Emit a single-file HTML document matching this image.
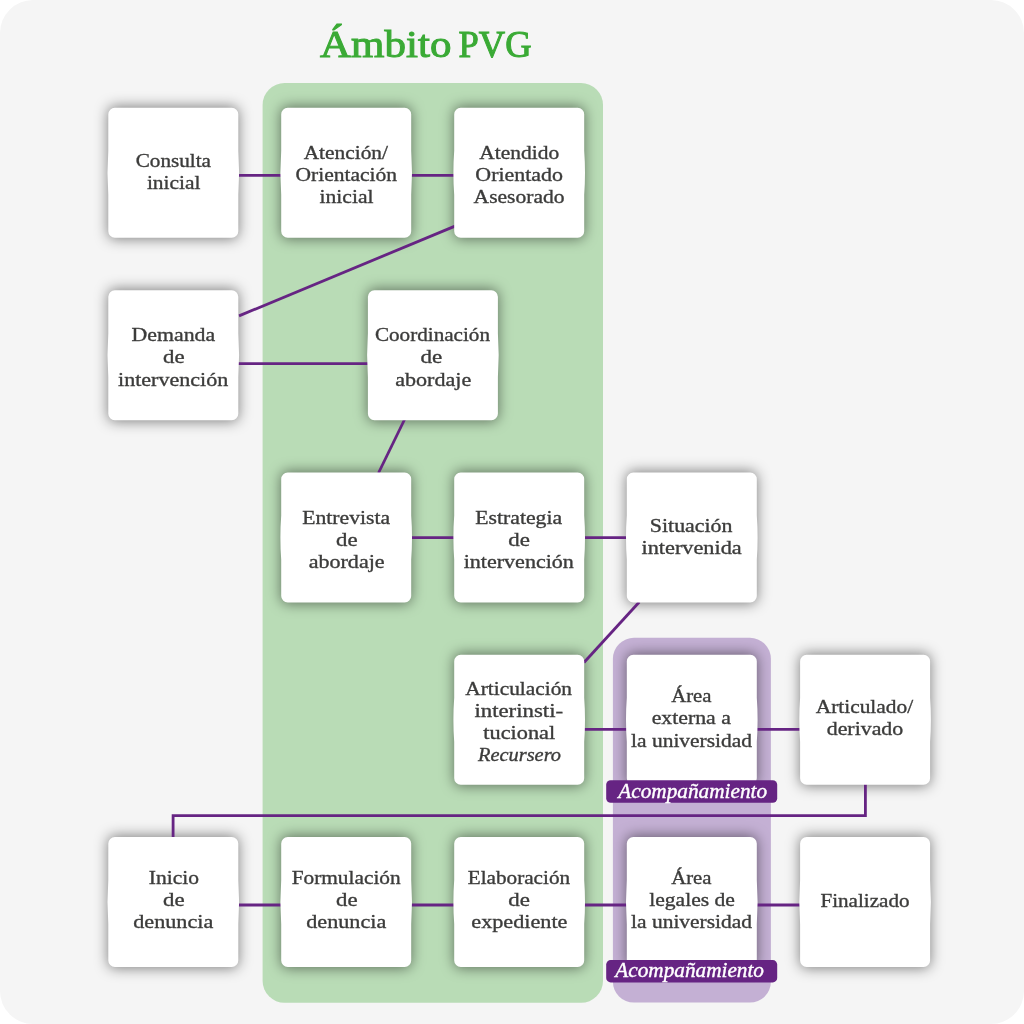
<!DOCTYPE html>
<html lang="es"><head><meta charset="utf-8"><title>Ámbito PVG</title>
<style>
html,body{margin:0;padding:0;background:#fff;}
body{width:1024px;height:1024px;overflow:hidden;font-family:"Liberation Serif",serif;}
svg{display:block;}
text{font-family:"Liberation Serif",serif;}
.t{font-size:19px;fill:#3c3c3b;stroke:#3c3c3b;stroke-width:.35px;}
.i{font-style:italic;}
.w{font-size:20px;fill:#fff;stroke:#fff;stroke-width:.4px;}
.ti{font-size:38.5px;fill:#3aaa35;stroke:#3aaa35;stroke-width:1px;}
.ln{stroke:#662483;stroke-width:2.8;fill:none;}
.bx{fill:#fff;}
.sh{fill:#000;fill-opacity:.5;filter:url(#blur);}
</style></head><body>
<svg width="1024" height="1024" viewBox="0 0 1024 1024">
<defs><filter id="blur" x="-25%" y="-25%" width="150%" height="150%"><feGaussianBlur stdDeviation="7"/></filter></defs>
<rect x="0" y="0" width="1024" height="1024" rx="33" ry="33" fill="#f5f5f5"/>
<rect x="262.6" y="83" width="340.4" height="919.8" rx="22" ry="22" fill="#b9dcb6"/>
<rect x="612.9" y="637.8" width="158" height="364.8" rx="21" ry="21" fill="#c4b0d4"/>
<g>
<path class="sh" d="M114.80,106.80 H231.80 Q238.30,106.80 238.30,113.30 Q238.30,172.75 238.30,232.20 Q238.30,238.70 231.80,238.70 H114.80 Q108.30,238.70 108.30,232.20 Q108.30,172.75 108.30,113.30 Q108.30,106.80 114.80,106.80Z"/>
<path class="sh" d="M287.70,106.80 H404.70 Q411.20,106.80 411.20,113.30 Q411.20,172.75 411.20,232.20 Q411.20,238.70 404.70,238.70 H287.70 Q281.20,238.70 281.20,232.20 Q281.20,172.75 281.20,113.30 Q281.20,106.80 287.70,106.80Z"/>
<path class="sh" d="M460.70,106.80 H577.70 Q584.20,106.80 584.20,113.30 Q584.20,172.75 584.20,232.20 Q584.20,238.70 577.70,238.70 H460.70 Q454.20,238.70 454.20,232.20 Q454.20,172.75 454.20,113.30 Q454.20,106.80 460.70,106.80Z"/>
<path class="sh" d="M114.80,289.30 H231.80 Q238.30,289.30 238.30,295.80 Q238.30,355.25 238.30,414.70 Q238.30,421.20 231.80,421.20 H114.80 Q108.30,421.20 108.30,414.70 Q108.30,355.25 108.30,295.80 Q108.30,289.30 114.80,289.30Z"/>
<path class="sh" d="M374.40,289.30 H491.40 Q497.90,289.30 497.90,295.80 Q497.90,355.25 497.90,414.70 Q497.90,421.20 491.40,421.20 H374.40 Q367.90,421.20 367.90,414.70 Q367.90,355.25 367.90,295.80 Q367.90,289.30 374.40,289.30Z"/>
<path class="sh" d="M287.70,471.60 H404.70 Q411.20,471.60 411.20,478.10 Q411.20,537.55 411.20,597.00 Q411.20,603.50 404.70,603.50 H287.70 Q281.20,603.50 281.20,597.00 Q281.20,537.55 281.20,478.10 Q281.20,471.60 287.70,471.60Z"/>
<path class="sh" d="M460.70,471.60 H577.70 Q584.20,471.60 584.20,478.10 Q584.20,537.55 584.20,597.00 Q584.20,603.50 577.70,603.50 H460.70 Q454.20,603.50 454.20,597.00 Q454.20,537.55 454.20,478.10 Q454.20,471.60 460.70,471.60Z"/>
<path class="sh" d="M633.30,471.60 H750.30 Q756.80,471.60 756.80,478.10 Q756.80,537.55 756.80,597.00 Q756.80,603.50 750.30,603.50 H633.30 Q626.80,603.50 626.80,597.00 Q626.80,537.55 626.80,478.10 Q626.80,471.60 633.30,471.60Z"/>
<path class="sh" d="M460.70,653.80 H577.70 Q584.20,653.80 584.20,660.30 Q584.20,719.75 584.20,779.20 Q584.20,785.70 577.70,785.70 H460.70 Q454.20,785.70 454.20,779.20 Q454.20,719.75 454.20,660.30 Q454.20,653.80 460.70,653.80Z"/>
<path class="sh" d="M633.30,653.80 H750.30 Q756.80,653.80 756.80,660.30 Q756.80,719.75 756.80,779.20 Q756.80,785.70 750.30,785.70 H633.30 Q626.80,785.70 626.80,779.20 Q626.80,719.75 626.80,660.30 Q626.80,653.80 633.30,653.80Z"/>
<path class="sh" d="M806.60,653.80 H923.60 Q930.10,653.80 930.10,660.30 Q930.10,719.75 930.10,779.20 Q930.10,785.70 923.60,785.70 H806.60 Q800.10,785.70 800.10,779.20 Q800.10,719.75 800.10,660.30 Q800.10,653.80 806.60,653.80Z"/>
<path class="sh" d="M114.80,836.10 H231.80 Q238.30,836.10 238.30,842.60 Q238.30,902.05 238.30,961.50 Q238.30,968.00 231.80,968.00 H114.80 Q108.30,968.00 108.30,961.50 Q108.30,902.05 108.30,842.60 Q108.30,836.10 114.80,836.10Z"/>
<path class="sh" d="M287.70,836.10 H404.70 Q411.20,836.10 411.20,842.60 Q411.20,902.05 411.20,961.50 Q411.20,968.00 404.70,968.00 H287.70 Q281.20,968.00 281.20,961.50 Q281.20,902.05 281.20,842.60 Q281.20,836.10 287.70,836.10Z"/>
<path class="sh" d="M460.70,836.10 H577.70 Q584.20,836.10 584.20,842.60 Q584.20,902.05 584.20,961.50 Q584.20,968.00 577.70,968.00 H460.70 Q454.20,968.00 454.20,961.50 Q454.20,902.05 454.20,842.60 Q454.20,836.10 460.70,836.10Z"/>
<path class="sh" d="M633.30,836.10 H750.30 Q756.80,836.10 756.80,842.60 Q756.80,902.05 756.80,961.50 Q756.80,968.00 750.30,968.00 H633.30 Q626.80,968.00 626.80,961.50 Q626.80,902.05 626.80,842.60 Q626.80,836.10 633.30,836.10Z"/>
<path class="sh" d="M806.60,836.10 H923.60 Q930.10,836.10 930.10,842.60 Q930.10,902.05 930.10,961.50 Q930.10,968.00 923.60,968.00 H806.60 Q800.10,968.00 800.10,961.50 Q800.10,902.05 800.10,842.60 Q800.10,836.10 806.60,836.10Z"/>
</g>
<path class="ln" d="M238,175.4 H282"/>
<path class="ln" d="M411,175.4 H455"/>
<path class="ln" d="M238,363.6 H369"/>
<path class="ln" d="M411,537.6 H455"/>
<path class="ln" d="M584,537.6 H628"/>
<path class="ln" d="M584,729.3 H628"/>
<path class="ln" d="M757,729.3 H801"/>
<path class="ln" d="M238,905.0 H282"/>
<path class="ln" d="M411,905.0 H455"/>
<path class="ln" d="M584,905.0 H628"/>
<path class="ln" d="M757,905.0 H801"/>
<path class="ln" d="M239,315.9 L455,226.1"/>
<path class="ln" d="M404.8,419 L378.5,473"/>
<path class="ln" d="M639.3,602 L584,662.5"/>
<path class="ln" d="M865.4,784 V815.7 H173.1 V838" stroke-linejoin="miter"/>
<path class="bx" d="M114.8,107.8 H231.8 A6.5,6.5 0 0 1 238.3,114.3 V150.8 Q239.9,172.8 238.3,194.8 V231.2 A6.5,6.5 0 0 1 231.8,237.7 H114.8 A6.5,6.5 0 0 1 108.3,231.2 V194.8 Q106.7,172.8 108.3,150.8 V114.3 A6.5,6.5 0 0 1 114.8,107.8Z"/>
<path class="bx" d="M287.7,107.8 H404.7 A6.5,6.5 0 0 1 411.2,114.3 V150.8 Q412.8,172.8 411.2,194.8 V231.2 A6.5,6.5 0 0 1 404.7,237.7 H287.7 A6.5,6.5 0 0 1 281.2,231.2 V194.8 Q279.6,172.8 281.2,150.8 V114.3 A6.5,6.5 0 0 1 287.7,107.8Z"/>
<path class="bx" d="M460.7,107.8 H577.7 A6.5,6.5 0 0 1 584.2,114.3 V150.8 Q585.8,172.8 584.2,194.8 V231.2 A6.5,6.5 0 0 1 577.7,237.7 H460.7 A6.5,6.5 0 0 1 454.2,231.2 V194.8 Q452.6,172.8 454.2,150.8 V114.3 A6.5,6.5 0 0 1 460.7,107.8Z"/>
<path class="bx" d="M114.8,290.3 H231.8 A6.5,6.5 0 0 1 238.3,296.8 V333.2 Q239.9,355.2 238.3,377.2 V413.7 A6.5,6.5 0 0 1 231.8,420.2 H114.8 A6.5,6.5 0 0 1 108.3,413.7 V377.2 Q106.7,355.2 108.3,333.2 V296.8 A6.5,6.5 0 0 1 114.8,290.3Z"/>
<path class="bx" d="M374.4,290.3 H491.4 A6.5,6.5 0 0 1 497.9,296.8 V333.2 Q499.5,355.2 497.9,377.2 V413.7 A6.5,6.5 0 0 1 491.4,420.2 H374.4 A6.5,6.5 0 0 1 367.9,413.7 V377.2 Q366.3,355.2 367.9,333.2 V296.8 A6.5,6.5 0 0 1 374.4,290.3Z"/>
<path class="bx" d="M287.7,472.6 H404.7 A6.5,6.5 0 0 1 411.2,479.1 V515.6 Q412.8,537.6 411.2,559.6 V596.0 A6.5,6.5 0 0 1 404.7,602.5 H287.7 A6.5,6.5 0 0 1 281.2,596.0 V559.6 Q279.6,537.6 281.2,515.6 V479.1 A6.5,6.5 0 0 1 287.7,472.6Z"/>
<path class="bx" d="M460.7,472.6 H577.7 A6.5,6.5 0 0 1 584.2,479.1 V515.6 Q585.8,537.6 584.2,559.6 V596.0 A6.5,6.5 0 0 1 577.7,602.5 H460.7 A6.5,6.5 0 0 1 454.2,596.0 V559.6 Q452.6,537.6 454.2,515.6 V479.1 A6.5,6.5 0 0 1 460.7,472.6Z"/>
<path class="bx" d="M633.3,472.6 H750.3 A6.5,6.5 0 0 1 756.8,479.1 V515.6 Q758.4,537.6 756.8,559.6 V596.0 A6.5,6.5 0 0 1 750.3,602.5 H633.3 A6.5,6.5 0 0 1 626.8,596.0 V559.6 Q625.2,537.6 626.8,515.6 V479.1 A6.5,6.5 0 0 1 633.3,472.6Z"/>
<path class="bx" d="M460.7,654.8 H577.7 A6.5,6.5 0 0 1 584.2,661.3 V697.8 Q585.8,719.8 584.2,741.8 V778.2 A6.5,6.5 0 0 1 577.7,784.7 H460.7 A6.5,6.5 0 0 1 454.2,778.2 V741.8 Q452.6,719.8 454.2,697.8 V661.3 A6.5,6.5 0 0 1 460.7,654.8Z"/>
<path class="bx" d="M633.3,654.8 H750.3 A6.5,6.5 0 0 1 756.8,661.3 V697.8 Q758.4,719.8 756.8,741.8 V778.2 A6.5,6.5 0 0 1 750.3,784.7 H633.3 A6.5,6.5 0 0 1 626.8,778.2 V741.8 Q625.2,719.8 626.8,697.8 V661.3 A6.5,6.5 0 0 1 633.3,654.8Z"/>
<path class="bx" d="M806.6,654.8 H923.6 A6.5,6.5 0 0 1 930.1,661.3 V697.8 Q931.7,719.8 930.1,741.8 V778.2 A6.5,6.5 0 0 1 923.6,784.7 H806.6 A6.5,6.5 0 0 1 800.1,778.2 V741.8 Q798.5,719.8 800.1,697.8 V661.3 A6.5,6.5 0 0 1 806.6,654.8Z"/>
<path class="bx" d="M114.8,837.1 H231.8 A6.5,6.5 0 0 1 238.3,843.6 V880.1 Q239.9,902.1 238.3,924.1 V960.5 A6.5,6.5 0 0 1 231.8,967.0 H114.8 A6.5,6.5 0 0 1 108.3,960.5 V924.1 Q106.7,902.1 108.3,880.1 V843.6 A6.5,6.5 0 0 1 114.8,837.1Z"/>
<path class="bx" d="M287.7,837.1 H404.7 A6.5,6.5 0 0 1 411.2,843.6 V880.1 Q412.8,902.1 411.2,924.1 V960.5 A6.5,6.5 0 0 1 404.7,967.0 H287.7 A6.5,6.5 0 0 1 281.2,960.5 V924.1 Q279.6,902.1 281.2,880.1 V843.6 A6.5,6.5 0 0 1 287.7,837.1Z"/>
<path class="bx" d="M460.7,837.1 H577.7 A6.5,6.5 0 0 1 584.2,843.6 V880.1 Q585.8,902.1 584.2,924.1 V960.5 A6.5,6.5 0 0 1 577.7,967.0 H460.7 A6.5,6.5 0 0 1 454.2,960.5 V924.1 Q452.6,902.1 454.2,880.1 V843.6 A6.5,6.5 0 0 1 460.7,837.1Z"/>
<path class="bx" d="M633.3,837.1 H750.3 A6.5,6.5 0 0 1 756.8,843.6 V880.1 Q758.4,902.1 756.8,924.1 V960.5 A6.5,6.5 0 0 1 750.3,967.0 H633.3 A6.5,6.5 0 0 1 626.8,960.5 V924.1 Q625.2,902.1 626.8,880.1 V843.6 A6.5,6.5 0 0 1 633.3,837.1Z"/>
<path class="bx" d="M806.6,837.1 H923.6 A6.5,6.5 0 0 1 930.1,843.6 V880.1 Q931.7,902.1 930.1,924.1 V960.5 A6.5,6.5 0 0 1 923.6,967.0 H806.6 A6.5,6.5 0 0 1 800.1,960.5 V924.1 Q798.5,902.1 800.1,880.1 V843.6 A6.5,6.5 0 0 1 806.6,837.1Z"/>
<rect x="606.2" y="780.2" width="171" height="22.6" rx="4.5" ry="4.5" fill="#662483"/>
<rect x="606.2" y="960.1" width="171" height="22.3" rx="4.5" ry="4.5" fill="#662483"/>
<g opacity="0.999">
<text class="t" x="135.70" y="167.40" textLength="75.27" lengthAdjust="spacingAndGlyphs">Consulta</text>
<text class="t" x="146.90" y="189.30" textLength="53.61" lengthAdjust="spacingAndGlyphs">inicial</text>
<text class="t" x="303.70" y="158.50" textLength="84.29" lengthAdjust="spacingAndGlyphs">Atención/</text>
<text class="t" x="295.50" y="180.60" textLength="101.63" lengthAdjust="spacingAndGlyphs">Orientación</text>
<text class="t" x="319.60" y="202.60" textLength="53.92" lengthAdjust="spacingAndGlyphs">inicial</text>
<text class="t" x="479.30" y="158.50" textLength="79.86" lengthAdjust="spacingAndGlyphs">Atendido</text>
<text class="t" x="475.30" y="180.60" textLength="87.68" lengthAdjust="spacingAndGlyphs">Orientado</text>
<text class="t" x="473.60" y="202.60" textLength="90.87" lengthAdjust="spacingAndGlyphs">Asesorado</text>
<text class="t" x="131.60" y="341.00" textLength="83.55" lengthAdjust="spacingAndGlyphs">Demanda</text>
<text class="t" x="163.00" y="363.20" textLength="21.52" lengthAdjust="spacingAndGlyphs">de</text>
<text class="t" x="118.00" y="385.50" textLength="110.22" lengthAdjust="spacingAndGlyphs">intervención</text>
<text class="t" x="374.90" y="340.80" textLength="115.14" lengthAdjust="spacingAndGlyphs">Coordinación</text>
<text class="t" x="420.60" y="363.20" textLength="21.72" lengthAdjust="spacingAndGlyphs">de</text>
<text class="t" x="395.20" y="385.50" textLength="76.00" lengthAdjust="spacingAndGlyphs">abordaje</text>
<text class="t" x="302.30" y="524.30" textLength="87.75" lengthAdjust="spacingAndGlyphs">Entrevista</text>
<text class="t" x="336.00" y="546.30" textLength="21.52" lengthAdjust="spacingAndGlyphs">de</text>
<text class="t" x="308.70" y="568.20" textLength="75.90" lengthAdjust="spacingAndGlyphs">abordaje</text>
<text class="t" x="475.30" y="524.30" textLength="86.75" lengthAdjust="spacingAndGlyphs">Estrategia</text>
<text class="t" x="508.30" y="546.30" textLength="21.62" lengthAdjust="spacingAndGlyphs">de</text>
<text class="t" x="463.70" y="568.20" textLength="110.22" lengthAdjust="spacingAndGlyphs">intervención</text>
<text class="t" x="649.85" y="531.70" textLength="82.68" lengthAdjust="spacingAndGlyphs">Situación</text>
<text class="t" x="641.50" y="553.90" textLength="100.24" lengthAdjust="spacingAndGlyphs">intervenida</text>
<text class="t" x="465.30" y="694.60" textLength="106.74" lengthAdjust="spacingAndGlyphs">Articulación</text>
<text class="t" x="474.40" y="717.20" textLength="88.69" lengthAdjust="spacingAndGlyphs">interinsti-</text>
<text class="t" x="483.30" y="739.40" textLength="71.83" lengthAdjust="spacingAndGlyphs">tucional</text>
<text class="t i" x="478.07" y="761.40" textLength="82.96" lengthAdjust="spacingAndGlyphs">Recursero</text>
<text class="t" x="671.20" y="702.40" textLength="40.28" lengthAdjust="spacingAndGlyphs">Área</text>
<text class="t" x="651.70" y="724.40" textLength="79.15" lengthAdjust="spacingAndGlyphs">externa a</text>
<text class="t" x="631.10" y="746.90" textLength="120.94" lengthAdjust="spacingAndGlyphs">la universidad</text>
<text class="t" x="815.75" y="712.70" textLength="97.34" lengthAdjust="spacingAndGlyphs">Articulado/</text>
<text class="t" x="826.70" y="734.50" textLength="76.58" lengthAdjust="spacingAndGlyphs">derivado</text>
<text class="t" x="148.80" y="884.20" textLength="50.17" lengthAdjust="spacingAndGlyphs">Inicio</text>
<text class="t" x="163.00" y="906.20" textLength="21.52" lengthAdjust="spacingAndGlyphs">de</text>
<text class="t" x="133.30" y="928.15" textLength="79.94" lengthAdjust="spacingAndGlyphs">denuncia</text>
<text class="t" x="291.70" y="884.20" textLength="108.94" lengthAdjust="spacingAndGlyphs">Formulación</text>
<text class="t" x="336.00" y="906.20" textLength="21.52" lengthAdjust="spacingAndGlyphs">de</text>
<text class="t" x="306.30" y="928.15" textLength="79.94" lengthAdjust="spacingAndGlyphs">denuncia</text>
<text class="t" x="467.70" y="884.20" textLength="102.44" lengthAdjust="spacingAndGlyphs">Elaboración</text>
<text class="t" x="508.30" y="906.20" textLength="21.62" lengthAdjust="spacingAndGlyphs">de</text>
<text class="t" x="471.30" y="928.15" textLength="96.11" lengthAdjust="spacingAndGlyphs">expediente</text>
<text class="t" x="671.20" y="883.60" textLength="40.28" lengthAdjust="spacingAndGlyphs">Área</text>
<text class="t" x="649.20" y="906.10" textLength="85.69" lengthAdjust="spacingAndGlyphs">legales de</text>
<text class="t" x="631.10" y="928.10" textLength="120.94" lengthAdjust="spacingAndGlyphs">la universidad</text>
<text class="t" x="820.40" y="906.60" textLength="89.16" lengthAdjust="spacingAndGlyphs">Finalizado</text>
<text class="t i w" x="618.33" y="798.00" textLength="148.77" lengthAdjust="spacingAndGlyphs">Acompañamiento</text>
<text class="t i w" x="615.32" y="977.00" textLength="148.68" lengthAdjust="spacingAndGlyphs">Acompañamiento</text>
<text class="ti" x="320.10" y="57.00" textLength="131.30" lengthAdjust="spacingAndGlyphs">Ámbito</text>
<text class="ti" x="458.55" y="57.00" textLength="73.01" lengthAdjust="spacingAndGlyphs">PVG</text>
</g>
</svg></body></html>
